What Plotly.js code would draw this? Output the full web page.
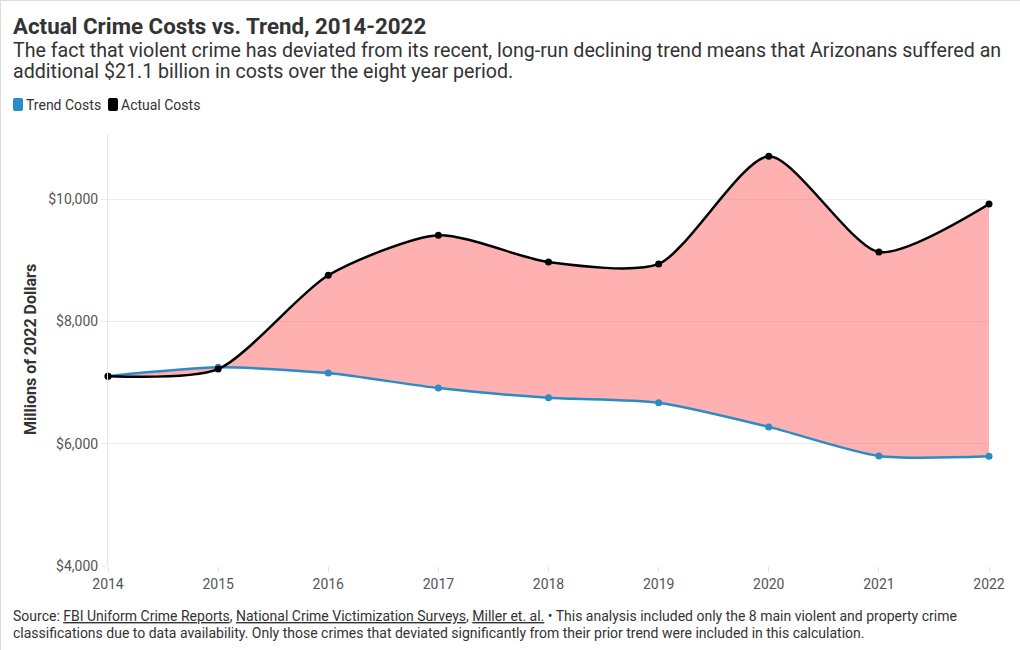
<!DOCTYPE html>
<html>
<head>
<meta charset="utf-8">
<script src="https://cdn.plot.ly/plotly-3.0.1.min.js"></script>
<style>
  html, body { margin: 0; padding: 0; background: #fff; }
  #chart { width: 1020px; height: 650px; box-sizing: border-box; border: 1px solid #dcdcdc; }
</style>
</head>
<body>
<div id="chart"></div>
<script>
// Data (values in millions of 2022 dollars)
const years = [2014, 2015, 2016, 2017, 2018, 2019, 2020, 2021, 2022];
const trendCosts = [7105, 7250, 7155, 6910, 6750, 6670, 6275, 5800, 5795];
const actualCosts = [7105, 7220, 8755, 9410, 8970, 8940, 10700, 9135, 9920];
const seriesNames = ["Trend Costs", "Actual Costs"];
const yTicks = [4000, 6000, 8000, 10000];
const yTickLabels = ["$4,000", "$6,000", "$8,000", "$10,000"];

const BLUE = "#2a8bc5";
const FONT = "Roboto, 'Open Sans', sans-serif";
const SMOOTH = 0.7;

const traces = [
  {
    x: years, y: trendCosts, name: seriesNames[0], type: "scatter", mode: "lines+markers",
    line: { color: BLUE, width: 2.5, shape: "spline", smoothing: SMOOTH },
    marker: { color: BLUE, size: 7 }, showlegend: false, cliponaxis: false,
    hoverinfo: "x+y"
  },
  {
    x: years, y: actualCosts, name: seriesNames[1], type: "scatter", mode: "lines+markers",
    line: { color: "#000000", width: 2.5, shape: "spline", smoothing: SMOOTH },
    marker: { color: "#000000", size: 7 }, fill: "tonexty", fillcolor: "rgba(255,98,98,0.5)",
    showlegend: false, cliponaxis: false, hoverinfo: "x+y"
  }
];

const L = 107, R = 32, T = 133, B = 85;
const PW = 1020 - L - R, PH = 650 - T - B;
const px = v => (v - L) / PW;
const py = v => (650 - B - v) / PH;

function label(text, x, yc, size, extra) {
  return Object.assign({
    xref: "paper", yref: "paper", x: px(x), y: py(yc), xanchor: "left", yanchor: "middle",
    align: "left", showarrow: false, borderpad: 0, text: text,
    font: { family: FONT, size: size, color: "#333333" }
  }, extra || {});
}

function legendSwatch(x, yc, color) {
  const r = 2, w = 10, h = 13;
  const path = `M${r},${-h/2} L${w-r},${-h/2} Q${w},${-h/2} ${w},${-h/2+r} L${w},${h/2-r} Q${w},${h/2} ${w-r},${h/2} L${r},${h/2} Q0,${h/2} 0,${h/2-r} L0,${-h/2+r} Q0,${-h/2} ${r},${-h/2} Z`;
  return {
    type: "path", xref: "paper", yref: "paper", xsizemode: "pixel", ysizemode: "pixel",
    xanchor: px(x), yanchor: py(yc), path: path,
    fillcolor: color, line: { width: 0 }, layer: "above"
  };
}

const layout = {
  width: 1020, height: 650,
  margin: { l: L, r: R, t: T, b: B, pad: 0 },
  paper_bgcolor: "#ffffff", plot_bgcolor: "#ffffff",
  font: { family: FONT, color: "#333333", size: 14 },
  showlegend: false,
  xaxis: {
    range: [2014, 2022], tickvals: years, ticktext: years.map(String),
    showgrid: false, zeroline: false, showline: false,
    ticks: "outside", ticklen: 5, tickcolor: "#e3e3e3",
    tickfont: { family: FONT, size: 14, color: "#555555" }, fixedrange: true
  },
  yaxis: {
    range: [4000, 11065], tickvals: yTicks, ticktext: yTickLabels,
    showgrid: true, gridcolor: "#ebebeb", gridwidth: 1, zeroline: false,
    showline: true, linecolor: "#e6e6e6", linewidth: 1,
    ticks: "outside", ticklen: 6, tickcolor: "#ebebeb",
    tickfont: { family: FONT, size: 14, color: "#555555" }, fixedrange: true
  },
  shapes: [
    legendSwatch(12, 103.5, BLUE),
    legendSwatch(107, 103.5, "#000000")
  ],
  annotations: [
    label("<b>Actual Crime Costs vs. Trend, 2014-2022</b>", 11, 25, 22.3),
    label("The fact that violent crime has deviated from its recent, long-run declining trend means that Arizonans suffered an", 11, 49.5, 19.6),
    label("additional $21.1 billion in costs over the eight year period.", 11, 71, 19.6),
    label(seriesNames[0], 24, 103.5, 14),
    label(seriesNames[1], 119, 103.5, 14),
    label("<b>Millions of 2022 Dollars</b>", 29, 349, 16, { xanchor: "center", textangle: -90, yanchor: "middle", x: px(29), align: "center" }),
    label("Source: <u>FBI Uniform Crime Reports</u>, <u>National Crime Victimization Surveys</u>, <u>Miller et. al.</u> • This analysis included only the 8 main violent and property crime", 11, 615, 14),
    label("classifications due to data availability. Only those crimes that deviated significantly from their prior trend were included in this calculation.", 11, 632, 14)
  ]
};

Plotly.newPlot("chart", traces, layout, { displayModeBar: false, responsive: false });
</script>
</body>
</html>
